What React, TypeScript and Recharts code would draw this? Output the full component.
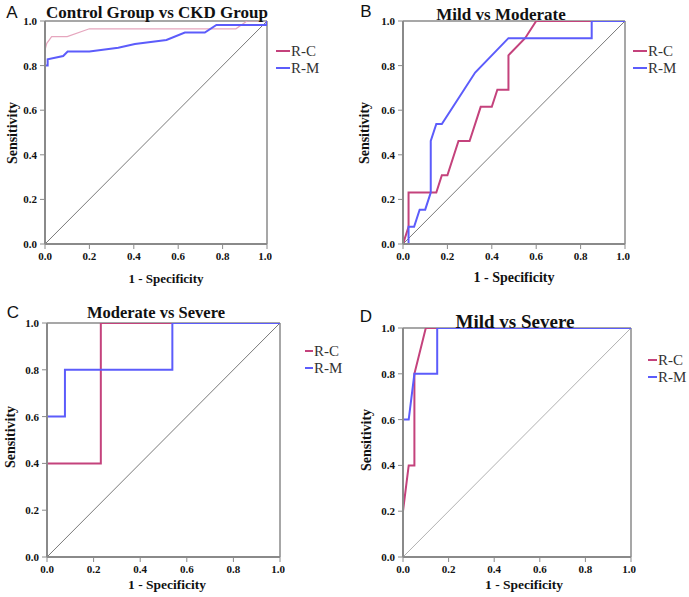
import { CSSProperties } from 'react';
import { LineChart, Line, XAxis, YAxis, ReferenceLine } from 'recharts';

// Axis ticks shared by all four ROC panels
const TICKS = [0, 0.2, 0.4, 0.6, 0.8, 1];
const SERIES_NAMES = ['R-C', 'R-M'];

// A: Control Group vs CKD Group
const A_RC_FPR = [0, 0, 0.008, 0.03, 0.1, 0.2, 0.86, 0.91, 1];
const A_RC_TPR = [0, 0.87, 0.9, 0.93, 0.93, 0.965, 0.965, 1, 1];
const A_RM_FPR = [0, 0, 0.012, 0.012, 0.082, 0.102, 0.2, 0.33, 0.405, 0.547, 0.63, 0.72, 0.772, 0.997, 1];
const A_RM_TPR = [0, 0.8, 0.8, 0.828, 0.843, 0.863, 0.863, 0.88, 0.897, 0.915, 0.948, 0.948, 0.982, 0.982, 1];

// B: Mild vs Moderate
const B_RC_FPR = [0, 0.025, 0.025, 0.15, 0.175, 0.2, 0.25, 0.3, 0.35, 0.4, 0.425, 0.475, 0.475, 0.55, 0.6, 1];
const B_RC_TPR = [0, 0.077, 0.231, 0.231, 0.308, 0.308, 0.462, 0.462, 0.615, 0.615, 0.692, 0.692, 0.846, 0.923, 1, 1];
const B_RM_FPR = [0, 0.025, 0.025, 0.05, 0.075, 0.1, 0.125, 0.125, 0.15, 0.175, 0.325, 0.475, 0.85, 0.85, 1];
const B_RM_TPR = [0, 0, 0.077, 0.077, 0.154, 0.154, 0.231, 0.462, 0.538, 0.538, 0.769, 0.923, 0.923, 1, 1];

// C: Moderate vs Severe
const C_RC_FPR = [0, 0, 0.231, 0.231, 1];
const C_RC_TPR = [0, 0.4, 0.4, 1, 1];
const C_RM_FPR = [0, 0, 0.077, 0.077, 0.538, 0.538, 1];
const C_RM_TPR = [0, 0.6, 0.6, 0.8, 0.8, 1, 1];

// D: Mild vs Severe
const D_RC_FPR = [0, 0, 0.025, 0.05, 0.05, 0.1, 1];
const D_RC_TPR = [0, 0.2, 0.4, 0.4, 0.8, 1, 1];
const D_RM_FPR = [0, 0, 0.025, 0.05, 0.15, 0.15, 1];
const D_RM_TPR = [0, 0.6, 0.6, 0.8, 0.8, 1, 1];

const zip = (xs: number[], ys: number[]) => xs.map((x, i) => ({ x, y: ys[i] }));

const SERIF = '"Liberation Serif", "Times New Roman", serif';
const SANS = '"Liberation Sans", Arial, sans-serif';
const AXIS_GRAY = '#8a8a8a';
const RC_COLOR = '#c4427c';
const RM_COLOR = '#5c5cfb';

interface PanelProps {
  letter: string;
  title: string;
  rc: { x: number; y: number }[];
  rm: { x: number; y: number }[];
  plot: { left: number; top: number; right: number; bottom: number };
  letterPos: [number, number];
  titlePos: [number, number, number]; // center x, center y, font size
  xLabelPos: [number, number];
  yLabelPos: [number, number];
  legend: { x: number; y: number; lineW: number };
  labelSize: number;
  rcColor?: string;
  rcWidth?: number;
  diagColor?: string;
}

const centered = (x: number, y: number, extra: CSSProperties): CSSProperties => ({
  position: 'absolute',
  left: x,
  top: y,
  transform: 'translate(-50%, -50%)',
  whiteSpace: 'nowrap',
  lineHeight: 1,
  ...extra,
});

function RocPanel(p: PanelProps) {
  const padL = 45;
  const padT = 10;
  const padR = 5;
  const padB = 30;
  const w = p.plot.right - p.plot.left + padL + padR;
  const h = p.plot.bottom - p.plot.top + padT + padB;
  const fmt = (v: number) => v.toFixed(1);
  const tickStyle = { fontFamily: SERIF, fontWeight: 700, fontSize: 11, fill: '#111' };

  return (
    <>
      <div style={{ position: 'absolute', left: p.plot.left - padL, top: p.plot.top - padT }}>
        <LineChart width={w} height={h} margin={{ top: padT, right: padR, left: 0, bottom: 0 }}>
          <XAxis
            type="number"
            dataKey="x"
            domain={[0, 1]}
            ticks={TICKS}
            tickFormatter={fmt}
            height={padB}
            tick={tickStyle}
            tickSize={5}
            tickMargin={3}
            stroke={AXIS_GRAY}
            axisLine={{ stroke: AXIS_GRAY, strokeWidth: 2 }}
            allowDataOverflow
          />
          <YAxis
            type="number"
            dataKey="y"
            domain={[0, 1]}
            ticks={TICKS}
            tickFormatter={fmt}
            width={padL}
            tick={tickStyle}
            tickSize={5}
            tickMargin={3}
            stroke={AXIS_GRAY}
            axisLine={{ stroke: AXIS_GRAY, strokeWidth: 2 }}
            allowDataOverflow
          />
          <ReferenceLine y={1} stroke={AXIS_GRAY} strokeWidth={1.5} />
          <ReferenceLine x={1} stroke={AXIS_GRAY} strokeWidth={1.5} />
          <ReferenceLine
            segment={[{ x: 0, y: 0 }, { x: 1, y: 1 }]}
            stroke={p.diagColor ?? '#6a6a6a'}
            strokeWidth={0.9}
          />
          <Line
            data={p.rc}
            dataKey="y"
            name={SERIES_NAMES[0]}
            type="linear"
            stroke={p.rcColor ?? RC_COLOR}
            strokeWidth={p.rcWidth ?? 2}
            dot={false}
            isAnimationActive={false}
          />
          <Line
            data={p.rm}
            dataKey="y"
            name={SERIES_NAMES[1]}
            type="linear"
            stroke={RM_COLOR}
            strokeWidth={2}
            dot={false}
            isAnimationActive={false}
          />
        </LineChart>
      </div>

      <div style={centered(p.letterPos[0], p.letterPos[1], { fontFamily: SANS, fontSize: 17, color: '#111' })}>
        {p.letter}
      </div>
      <div
        style={centered(p.titlePos[0], p.titlePos[1], {
          fontFamily: SERIF,
          fontWeight: 700,
          fontSize: p.titlePos[2],
          color: '#111',
        })}
      >
        {p.title}
      </div>
      <div
        style={centered(p.xLabelPos[0], p.xLabelPos[1], {
          fontFamily: SERIF,
          fontWeight: 700,
          fontSize: p.labelSize,
          color: '#111',
        })}
      >
        1 - Specificity
      </div>
      <div
        style={centered(p.yLabelPos[0], p.yLabelPos[1], {
          fontFamily: SERIF,
          fontWeight: 700,
          fontSize: 14,
          color: '#111',
          transform: 'translate(-50%, -50%) rotate(-90deg)',
        })}
      >
        Sensitivity
      </div>

      {/* Legend */}
      {SERIES_NAMES.map((name, i) => (
        <div
          key={name}
          style={{
            position: 'absolute',
            left: p.legend.x,
            top: p.legend.y + i * 17 - 8,
            height: 16,
            display: 'flex',
            alignItems: 'center',
            fontFamily: SERIF,
            fontSize: 15,
            color: '#333',
            whiteSpace: 'nowrap',
          }}
        >
          <span
            style={{
              display: 'inline-block',
              width: p.legend.lineW,
              height: 2,
              marginRight: 1,
              backgroundColor: i === 0 ? RC_COLOR : RM_COLOR,
            }}
          />
          {name}
        </div>
      ))}
    </>
  );
}

export default function App() {
  return (
    <div
      style={{
        position: 'absolute',
        left: 0,
        top: 0,
        width: 689,
        height: 597,
        background: '#fff',
        overflow: 'hidden',
      }}
    >
      <RocPanel
        letter="A"
        title="Control Group vs CKD Group"
        rc={zip(A_RC_FPR, A_RC_TPR)}
        rm={zip(A_RM_FPR, A_RM_TPR)}
        plot={{ left: 45, top: 21, right: 267, bottom: 244 }}
        letterPos={[12, 12]}
        titlePos={[157, 12, 17]}
        xLabelPos={[166, 278]}
        yLabelPos={[13, 133]}
        legend={{ x: 276, y: 51, lineW: 14 }}
        labelSize={13}
        rcColor="#e6a6be"
        rcWidth={1.2}
      />
      <RocPanel
        letter="B"
        title="Mild vs Moderate"
        rc={zip(B_RC_FPR, B_RC_TPR)}
        rm={zip(B_RM_FPR, B_RM_TPR)}
        plot={{ left: 403, top: 21, right: 625, bottom: 244 }}
        letterPos={[366, 11]}
        titlePos={[501, 14, 17]}
        xLabelPos={[514, 278]}
        yLabelPos={[365, 133]}
        legend={{ x: 633, y: 51, lineW: 14 }}
        labelSize={14}
      />
      <RocPanel
        letter="C"
        title="Moderate vs Severe"
        rc={zip(C_RC_FPR, C_RC_TPR)}
        rm={zip(C_RM_FPR, C_RM_TPR)}
        plot={{ left: 47, top: 323, right: 280, bottom: 557 }}
        letterPos={[13, 312]}
        titlePos={[156, 313, 16.5]}
        xLabelPos={[167, 585]}
        yLabelPos={[11, 437]}
        legend={{ x: 305, y: 351, lineW: 8 }}
        labelSize={13.5}
      />
      <RocPanel
        letter="D"
        title="Mild vs Severe"
        rc={zip(D_RC_FPR, D_RC_TPR)}
        rm={zip(D_RM_FPR, D_RM_TPR)}
        plot={{ left: 403, top: 328, right: 631, bottom: 557 }}
        letterPos={[366, 316]}
        titlePos={[515, 321, 19]}
        xLabelPos={[524, 585]}
        yLabelPos={[367, 440]}
        legend={{ x: 648, y: 360, lineW: 9 }}
        labelSize={13.5}
        diagColor="#a8a8a8"
      />
    </div>
  );
}
